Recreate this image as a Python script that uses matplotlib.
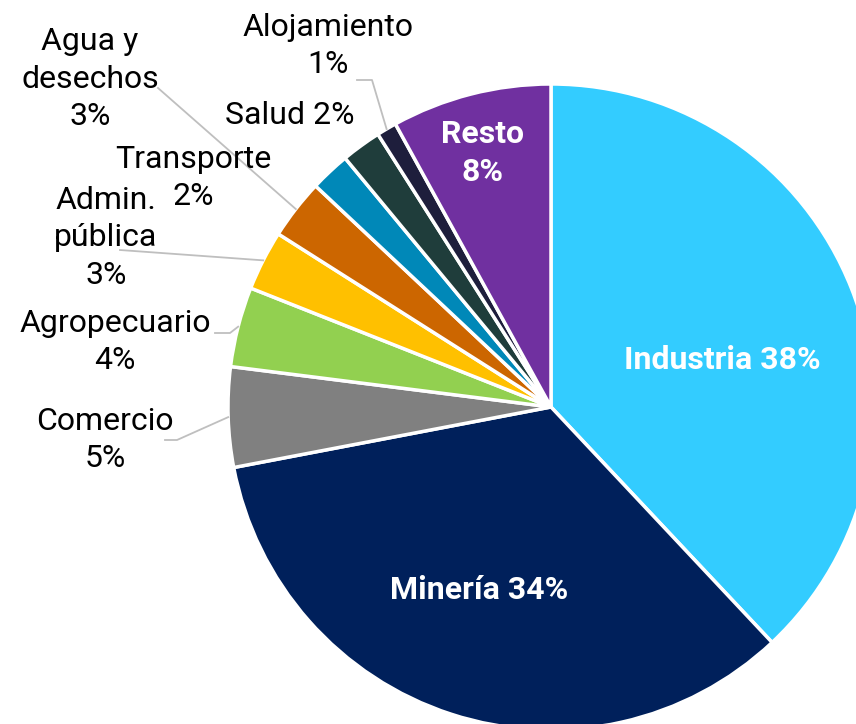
import numpy as np
import matplotlib
matplotlib.use("Agg")
import matplotlib.pyplot as plt

plt.rcParams['font.family'] = ['Roboto', 'DejaVu Sans']

# datos (orden horario desde las 12)
sectores = ['Industria', 'Minería', 'Comercio', 'Agropecuario', 'Admin.\npública',
            'Agua y\ndesechos', 'Transporte', 'Salud', 'Alojamiento', 'Resto']
valores = [38, 34, 5, 4, 3, 3, 2, 2, 1, 8]
colores = ['#33CCFF', '#00205B', '#808080', '#92D050', '#FFC000',
           '#CC6600', '#0088B8', '#1F3D3B', '#1E1E3C', '#7030A0']

# etiquetas: texto, posicion (px de la imagen), color, negrita, quiebre de la linea guia
etiquetas = {
    'Industria':    ('Industria 38%', (722, 360), 'white', True, None),
    'Minería':      ('Minería 34%', (479, 590), 'white', True, None),
    'Resto':        ('Resto\n8%', (483, 153), 'white', True, None),
    'Comercio':     ('Comercio\n5%', (105, 440), 'black', False, [(165, 440), (177, 440)]),
    'Agropecuario': ('Agropecuario\n4%', (115, 342), 'black', False, [(215, 333), (230, 333)]),
    'Admin.\npública': ('Admin.\npública\n3%', (106, 238), 'black', False, [(120, 250)]),
    'Agua y\ndesechos': ('Agua y\ndesechos\n3%', (90, 79), 'black', False, [(158, 88)]),
    'Transporte':   ('Transporte\n2%', (193, 178), 'black', False, None),
    'Salud':        ('Salud 2%', (290, 115), 'black', False, None),
    'Alojamiento':  ('Alojamiento\n1%', (328, 46), 'black', False, [(357, 80), (372, 80)]),
}

W, H = 856, 724
centro = (551, 407)
radio = 323

fig = plt.figure(figsize=(W / 100, H / 100), dpi=100)
ax = fig.add_axes([0, 0, 1, 1])

# eje y invertido -> sentido antihorario en datos = horario en pantalla
wedges, _ = ax.pie(valores, colors=colores, startangle=-90, counterclock=True,
                   center=centro, radius=radio,
                   wedgeprops=dict(edgecolor='white', linewidth=2.5))
ax.set_xlim(0, W)
ax.set_ylim(H, 0)
ax.set_aspect('equal')
ax.axis('off')

for w, nombre in zip(wedges, sectores):
    texto, pos, color, negrita, guia = etiquetas[nombre]
    ax.text(pos[0], pos[1], texto, ha='center', va='center', fontsize=23,
            color=color, fontweight='bold' if negrita else 'normal',
            linespacing=1.35, zorder=5)
    if guia:
        ang = np.deg2rad((w.theta1 + w.theta2) / 2)
        punto = (centro[0] + radio * np.cos(ang), centro[1] + radio * np.sin(ang))
        xs = [p[0] for p in guia] + [punto[0]]
        ys = [p[1] for p in guia] + [punto[1]]
        ax.plot(xs, ys, color='#BFBFBF', linewidth=1.3, zorder=1)

fig.savefig('out.png', dpi=100)
